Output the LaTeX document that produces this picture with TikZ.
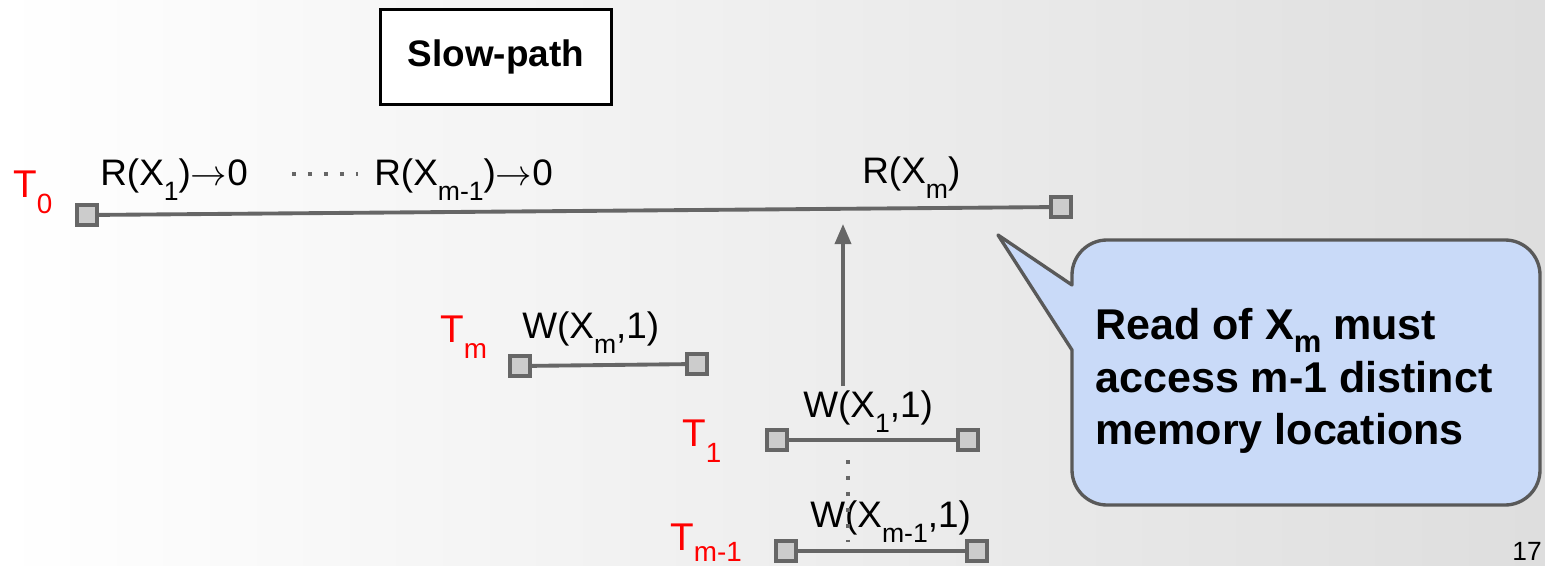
\documentclass[tikz,border=0pt]{standalone}
\usepackage{fontspec}
\setmainfont{Liberation Sans}
\usepackage{xcolor}
\usetikzlibrary{arrows.meta, positioning, calc}

\definecolor{bubblefill}{HTML}{C9DAF8}
\definecolor{linegray}{HTML}{666666}
\newcommand\dn[1]{\raisebox{-0.42em}{\scalebox{0.72}{#1}}}
\newcommand\dnb[1]{\raisebox{-0.3em}{\scalebox{0.72}{#1}}}

\begin{document}
\begin{tikzpicture}[
    x=0.02cm, y=-0.02cm,
    every node/.style={inner sep=0pt},
    endbox/.style={draw=linegray, fill=black!20, line width=2pt, minimum size=0.4cm},
    tline/.style={draw=linegray, line width=2.2pt},
    tlabel/.style={text=red, font=\fontsize{22}{26}\selectfont, anchor=base west},
    oplabel/.style={text=black, font=\fontsize{21}{25}\selectfont, anchor=base west},
    pathbox/.style={draw=black, line width=1.7pt, fill=white, minimum width=4.62cm, minimum height=1.9cm, font=\bfseries\fontsize{21}{25}\selectfont},
    dots/.style={draw=linegray, line width=2.3pt, dash pattern=on 2.3pt off 6.8pt},
    uparrow/.style={-{Triangle[length=0.4cm, width=0.32cm]}, draw=linegray, line width=2pt},
    bubble/.style={draw=black!65, fill=bubblefill, line width=1.9pt, line join=round},
    bubbletext/.style={align=left, anchor=north west, font=\bfseries\fontsize{24.5}{30}\selectfont}
  ]

  % background
  \shade[left color=white, right color=black!13] (0,0) rectangle (1545,565);
  \useasboundingbox (0,0) rectangle (1545,565);

  % slow path box
  \node[pathbox] (slow) at (496,57) {Slow-path};

  % T0: reads
  \node[tlabel] (t0) at (13,197) {T\dn{0}};
  \node[endbox] (t0a) at (87,215) {};
  \node[endbox] (t0b) at (1061,207) {};
  \draw[tline] (t0a) -- (t0b);
  \node[oplabel] (r1) at (100,185) {R(X\dn{1})$\rightarrow$0};
  \node[oplabel] (rm1) at (374,185) {R(X\dn{m-1})$\rightarrow$0};
  \node[oplabel] (rm) at (862,183) {R(X\dn{m})};
  \coordinate (hd1) at (292,174);
  \coordinate (hd2) at (358,174);
  \draw[dots] (hd1) -- (hd2);

  % Tm: write
  \node[tlabel] (tm) at (440,342) {T\dn{m}};
  \node[endbox] (tma) at (520,366) {};
  \node[endbox] (tmb) at (697,364) {};
  \draw[tline] (tma) -- (tmb);
  \node[oplabel] (wm) at (522,338) {W(X\dn{m},1)};

  % T1: write
  \node[tlabel] (t1) at (682,446) {T\dn{1}};
  \node[endbox] (t1a) at (777,440) {};
  \node[endbox] (t1b) at (968,440) {};
  \draw[tline] (t1a) -- (t1b);
  \node[oplabel] (w1) at (803,417) {W(X\dn{1},1)};

  % Tm-1: write
  \node[tlabel] (tmm) at (670,550) {T\dnb{m-1}};
  \node[endbox] (tmma) at (786,551) {};
  \node[endbox] (tmmb) at (977,551) {};
  \draw[tline] (tmma) -- (tmmb);
  \node[oplabel] (wmm) at (810,527) {W(X\dn{m-1},1)};
  \coordinate (vd1) at (848,460);
  \coordinate (vd2) at (848,542);
  \draw[dots] (vd1) -- (vd2);

  % arrow up to the read
  \coordinate (wsrc) at (843,386);
  \coordinate (rtip) at (843,224);
  \draw[uparrow] (wsrc) -- (rtip);

  % callout
  \draw[bubble] (1072,350) [rounded corners=0.7cm] -- (1072,505) -- (1540,505) -- (1540,240) -- (1072,240) [sharp corners] -- (1072,285) -- (998,235) -- cycle;
  \node[bubbletext] (note) at (1095,308) {Read of X\dnb{m} must\\access m-1 distinct\\memory locations};

  % page number
  \node[oplabel, font=\fontsize{15}{18}\selectfont, anchor=base east] (page) at (1542,560) {17};

\end{tikzpicture}
\end{document}
